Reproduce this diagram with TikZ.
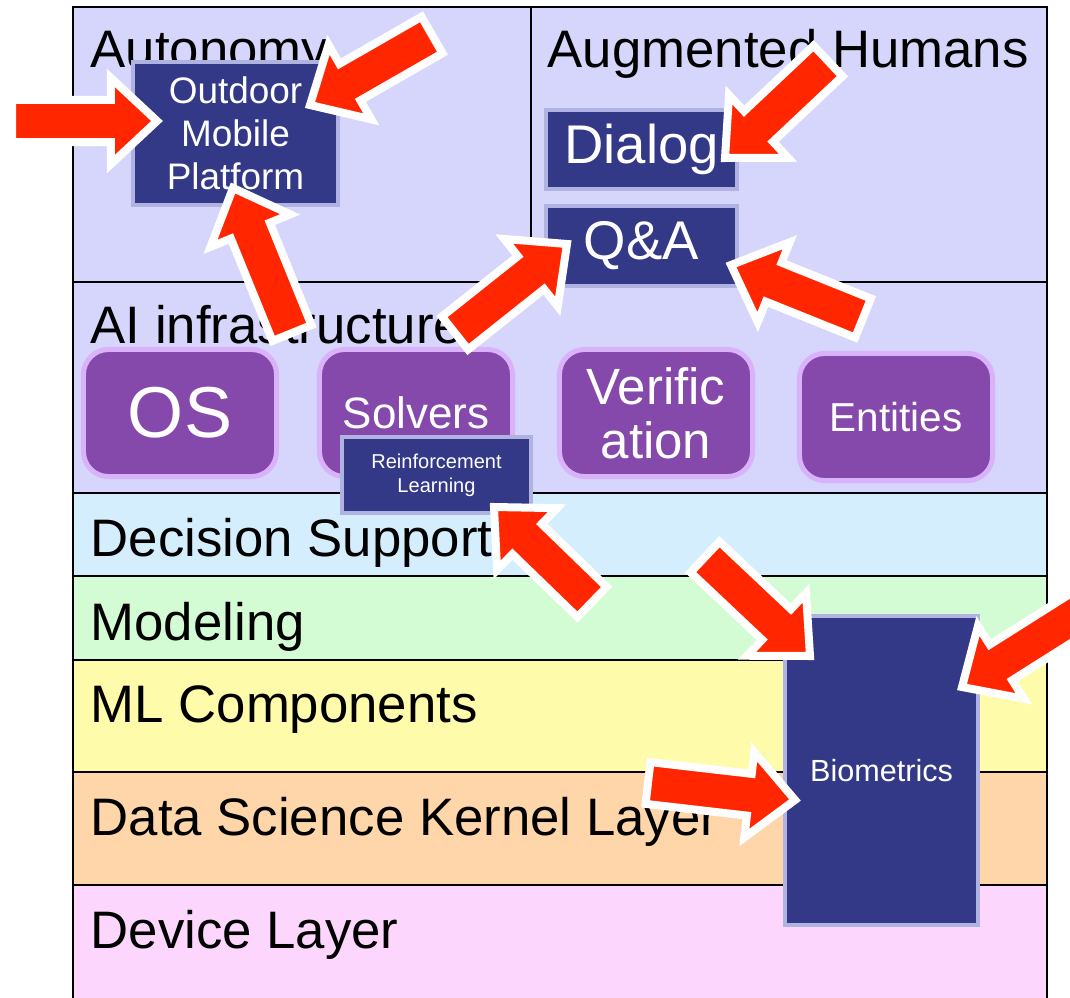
\documentclass[tikz,border=0pt]{standalone}
\usepackage{fontspec}
\setmainfont{Liberation Sans}
\usetikzlibrary{calc, positioning}

\definecolor{lavender}{HTML}{D6D6FC}
\definecolor{decision}{HTML}{D4EEFE}
\definecolor{modeling}{HTML}{D4FCD4}
\definecolor{mlcomp}{HTML}{FEFCAA}
\definecolor{kernel}{HTML}{FED6AA}
\definecolor{device}{HTML}{FCD6FC}
\definecolor{navy}{HTML}{333887}
\definecolor{navyrim}{HTML}{B0B2E2}
\definecolor{plum}{HTML}{8549AC}
\definecolor{plumrim}{HTML}{D9B2FA}
\definecolor{arrowred}{HTML}{FF2600}

% fat red arrow with white rim, from tail (#1) to tip (#2)
\newcommand{\blockarrow}[2]{%
  \coordinate (hb) at ($(#2)!0.46cm!(#1)$);
  \filldraw[redarrow] ($(#1)!0.21cm!90:(#2)$) -- ($(hb)!0.21cm!90:(#2)$)
    -- ($(hb)!0.43cm!90:(#2)$) -- (#2) -- ($(hb)!0.43cm!-90:(#2)$)
    -- ($(hb)!0.21cm!-90:(#2)$) -- ($(#1)!0.21cm!-90:(#2)$) -- cycle;}

\begin{document}
\begin{tikzpicture}[x=0.01cm, y=-0.01cm,
    layer/.style={draw=black, line width=0.7pt},
    layerlabel/.style={anchor=base west, inner sep=0pt, font=\fontsize{15}{18}\selectfont},
    darkbox/.style={fill=navy, draw=navyrim, line width=0.04cm, inner sep=0pt, text=white, align=center},
    infobox/.style={fill=plum, draw=plumrim, line width=0.05cm, rounded corners=0.25cm, inner sep=0pt,
      text=white, align=center, minimum width=1.93cm, minimum height=1.27cm},
    redarrow/.style={fill=arrowred, draw=white, line width=0.08cm}]
    \useasboundingbox (0,0) rectangle (1070,997);
    \clip (0,0) rectangle (1070,997);

    % layers
    \filldraw[layer, fill=lavender] (73,7) rectangle (1047,282);
    \draw[layer] (531,7) -- (531,282);
    \filldraw[layer, fill=lavender] (73,282) rectangle (1047,493);
    \filldraw[layer, fill=decision] (73,493) rectangle (1047,576);
    \filldraw[layer, fill=modeling] (73,576) rectangle (1047,660);
    \filldraw[layer, fill=mlcomp] (73,660) rectangle (1047,772);
    \filldraw[layer, fill=kernel] (73,772) rectangle (1047,885);
    \filldraw[layer, fill=device] (73,885) rectangle (1047,1010);

    \node[layerlabel] (autonomy) at (90,68) {Autonomy};
    \node[layerlabel] (augmented) at (547,68) {Augmented Humans};
    \node[layerlabel] (infra) at (90,343) {AI infrastructure};
    \node[layerlabel] (decision) at (90,556) {Decision Support};
    \node[layerlabel] (modeling) at (90,640) {Modeling};
    \node[layerlabel] (mlcomp) at (90,722) {ML Components};
    \node[layerlabel] (kernel) at (90,835) {Data Science Kernel Layer};
    \node[layerlabel] (device) at (90,948) {Device Layer};

    % infrastructure blocks
    \node[infobox, font=\fontsize{20.5}{24}\selectfont] (os) at (180,413) {OS};
    \node[infobox, font=\fontsize{12.5}{15}\selectfont] (solvers) at (416,413) {Solvers};
    \node[infobox, font=\fontsize{14.5}{15.4}\selectfont] (verif) at (656,413) {Verific\\ation};
    \node[infobox, font=\fontsize{11.5}{14}\selectfont] (entities) at (896,417) {Entities};

    % applications
    \node[darkbox, minimum width=2.05cm, minimum height=1.43cm, font=\fontsize{10.5}{12.3}\selectfont]
      (outdoor) at (235.5,133.5) {Outdoor\\Mobile\\Platform};
    \node[darkbox, minimum width=1.91cm, minimum height=0.79cm, font=\fontsize{15.5}{18}\selectfont]
      (dialog) at (641.5,149.5) {Dialog};
    \node[darkbox, minimum width=1.91cm, minimum height=0.80cm, font=\fontsize{15.5}{18}\selectfont]
      (qa) at (641.5,246) {Q\&A};
    \node[darkbox, minimum width=1.89cm, minimum height=0.76cm, font=\fontsize{5.7}{6.8}\selectfont]
      (rl) at (436.5,475) {Reinforcement\\Learning};
    \node[darkbox, minimum width=1.93cm, minimum height=3.09cm, font=\fontsize{8.7}{10}\selectfont]
      (bio) at (881.5,770.5) {Biometrics};

    % arrow ends
    \coordinate (tail1) at (12,121);   \coordinate (tip1) at (157,121);
    \coordinate (tail2) at (432,35);   \coordinate (tip2) at (310,105);
    \coordinate (tail3) at (292,333);  \coordinate (tip3) at (233,188);
    \coordinate (tail4) at (828,61);   \coordinate (tip4) at (725,158);
    \coordinate (tail5) at (455,333);  \coordinate (tip5) at (567,244);
    \coordinate (tail6) at (863,318);  \coordinate (tip6) at (731,265);
    \coordinate (tail7) at (592,602);  \coordinate (tip7) at (494,507);
    \coordinate (tail8) at (705,557);  \coordinate (tip8) at (810,656);
    \coordinate (tail9) at (1095,603); \coordinate (tip9) at (962,687);
    \coordinate (tail10) at (648,783); \coordinate (tip10) at (795,800);

    \foreach \i in {1,...,10} {\blockarrow{tail\i}{tip\i}}
\end{tikzpicture}
\end{document}
